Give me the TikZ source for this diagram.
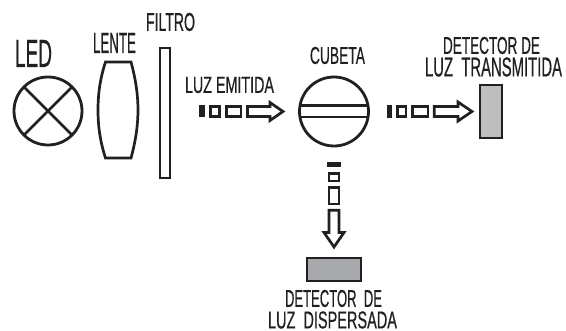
\documentclass[tikz,border=0pt]{standalone}
\usepackage{fontspec}
\usepackage{graphicx}
\setmainfont[FakeBold=0.8]{Liberation Sans}
\newcommand{\capt}[3]{\resizebox{#1pt}{#2pt}{#3}}
\definecolor{inkc}{HTML}{231F20}
\definecolor{detA}{HTML}{BCBEC0}
\definecolor{detB}{HTML}{A7A9AC}
\tikzset{
  x=1pt,y=-1pt,
  every node/.style={inner sep=0pt,outer sep=0pt,text=inkc},
  part/.style={draw=inkc,line width=2.7pt,fill=white,line join=miter},
  thin part/.style={draw=inkc,line width=2.2pt},
  solid bit/.style={fill=inkc,draw=none}
}
\begin{document}
\begin{tikzpicture}
\useasboundingbox (0,0) rectangle (566,331);
% LED
\node[circle,draw=inkc,line width=2.8pt,minimum size=68pt] (led) at (48,111) {};
\draw[draw=inkc,line width=2.8pt] (led.45) -- (led.225) (led.135) -- (led.-45);
\node (ledt) at (33.5,53.5) {\capt{37}{27}{LED}};
% Lens
\draw[part] (105.5,62) .. controls (99,82) and (98,98) .. (98,110) .. controls (98,122) and (99,138) .. (105.5,158) -- (131,158) .. controls (136.5,138) and (138,122) .. (138,110) .. controls (138,98) and (136.5,82) .. (131,62) -- cycle;
\node (lenst) at (114.5,43) {\capt{43}{20}{LENTE}};
% Filter
\node[thin part,minimum width=10pt,minimum height=130pt] (filt) at (165,113) {};
\node (filtt) at (170.5,22) {\capt{49}{18}{FILTRO}};
% Emitted light arrow
\fill[solid bit] (199,105) rectangle (204.5,117.5);
\draw[part] (210.3,106.5) rectangle (219.3,116.5);
\draw[part] (226.3,106.5) rectangle (241,116.5);
\draw[part] (247.5,106.5) -- (270,106.5) -- (270,102.5) -- (283,111.5) -- (270,120.5) -- (270,116.5) -- (247.5,116.5) -- cycle;
\node (emit) at (229.5,85) {\capt{89}{16}{LUZ EMITIDA}};
% Cuvette
\node[circle,draw=inkc,line width=2.8pt,minimum size=69pt] (cub) at (334,111.5) {};
\draw[draw=inkc,line width=2.8pt] (300,105.5) -- (368,105.5) (300,117) -- (368,117);
\node (cubt) at (337.5,55.5) {\capt{55}{17}{CUBETA}};
% Transmitted light arrow
\fill[solid bit] (387,105) rectangle (392,118);
\draw[part] (397.3,106.5) rectangle (406,116.5);
\draw[part] (412.3,106.5) rectangle (428,116.5);
\draw[part] (434.3,106.5) -- (458,106.5) -- (458,102) -- (472,111.5) -- (458,121) -- (458,116.5) -- (434.3,116.5) -- cycle;
% Transmitted detector
\node[draw=inkc,line width=2.4pt,fill=detA,minimum width=22pt,minimum height=53pt] (dett) at (491,111.5) {};
\node (dettA) at (491.5,45.5) {\capt{97}{17}{DETECTOR DE}};
\node (dettB) at (493.5,67) {\capt{137}{19}{LUZ\ \ TRANSMITIDA}};
% Scattered light arrow
\fill[solid bit] (327,162) rectangle (341,167);
\draw[part] (329,173.3) rectangle (339,181);
\draw[part] (329,187.3) rectangle (339,204);
\draw[part] (329,210.3) -- (339,210.3) -- (339,232.5) -- (344,232.5) -- (334,247) -- (324,232.5) -- (329,232.5) -- cycle;
% Scattered detector
\node[draw=inkc,line width=2.4pt,fill=detB,minimum width=54pt,minimum height=23pt] (detd) at (334,269.5) {};
\node (detdA) at (333.5,298.5) {\capt{97}{17}{DETECTOR\ \ DE}};
\node (detdB) at (332.5,320) {\capt{129}{17}{LUZ\ \ DISPERSADA}};
\end{tikzpicture}
\end{document}
